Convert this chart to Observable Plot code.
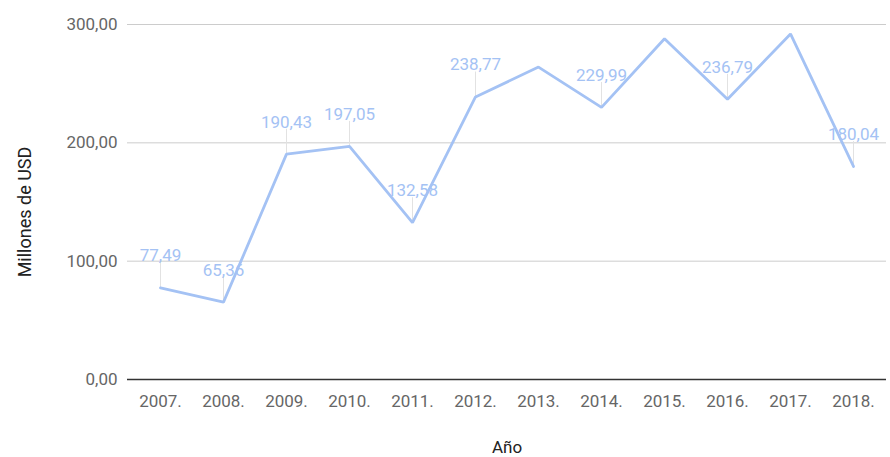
<!DOCTYPE html>
<html>
<head>
<meta charset="utf-8">
<script src="https://cdn.jsdelivr.net/npm/d3@7"></script>
<script src="https://cdn.jsdelivr.net/npm/@observablehq/plot@0.6"></script>
<style>
  html, body { margin: 0; padding: 0; background: #fff; }
  #chart { width: 890px; height: 457px; }
</style>
</head>
<body>
<div id="chart"></div>
<script>
const years = ["2007.", "2008.", "2009.", "2010.", "2011.", "2012.", "2013.", "2014.", "2015.", "2016.", "2017.", "2018."];
const values = [77.49, 65.36, 190.43, 197.05, 132.58, 238.77, 264, 229.99, 288, 236.79, 292, 180.04];
const labeled = [true, true, true, true, true, true, false, true, false, true, false, true];
const yTicks = [0, 100, 200, 300];

const data = years.map((y, i) => ({year: y, value: values[i], labeled: labeled[i]}));
const labelData = data.filter(d => d.labeled);

const loc = d3.formatLocale({decimal: ",", thousands: ".", grouping: [3], currency: ["", ""]});
const fmt = loc.format(",.2f");

const font = "Roboto, 'Noto Sans', sans-serif";
const lineColor = "#a4c2f4";

const leader = {
  draw(context, l) { context.moveTo(0, 0); context.lineTo(0, -l); }
};

const chart = Plot.plot({
  width: 890,
  height: 457,
  marginLeft: 127,
  marginRight: 4,
  marginTop: 24,
  marginBottom: 78,
  style: {fontFamily: font, fontSize: "17px", background: "#fff"},
  x: {type: "point", domain: years, padding: 0.5, label: null},
  y: {domain: [0, 300], label: null},
  marks: [
    Plot.ruleY(yTicks.filter(t => t > 0), {stroke: "#cccccc", strokeWidth: 1}),
    Plot.axisY(yTicks, {tickSize: 0, tickPadding: 10, tickFormat: fmt, fill: "#666666", fontSize: 17, label: null}),
    Plot.axisX({tickSize: 0, tickPadding: 15, fill: "#666666", fontSize: 17, label: null}),
    Plot.vector(labelData, {x: "year", y: "value", length: 25, anchor: "start", shape: leader, stroke: "#e2e2e2", strokeWidth: 1}),
    Plot.text(labelData, {x: "year", y: "value", text: d => fmt(d.value), dy: -32, fill: lineColor, fontSize: 17}),
    Plot.line(data, {x: "year", y: "value", stroke: lineColor, strokeWidth: 2.8, strokeLinejoin: "miter"}),
    Plot.ruleY([0], {stroke: "#333333", strokeWidth: 1.5}),
    Plot.text(["Año"], {frameAnchor: "bottom", dy: 73, fill: "#222222", fontSize: 17}),
    Plot.text(["Millones de USD"], {frameAnchor: "left", textAnchor: "middle", dx: -102, dy: 10, rotate: -90, fill: "#222222", fontSize: 18})
  ]
});
document.getElementById("chart").appendChild(chart);
</script>
</body>
</html>
